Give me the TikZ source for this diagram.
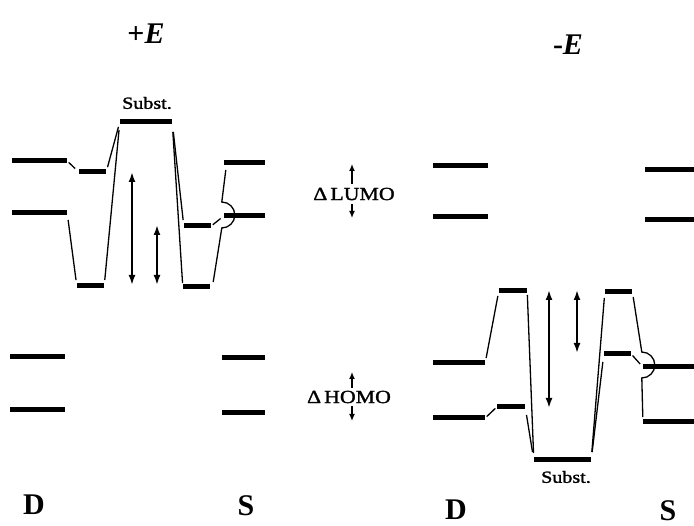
\documentclass[tikz,border=0pt]{standalone}
\usepackage{fontspec}
\setmainfont{Liberation Serif}
\newfontfamily\widefont[FakeStretch=1.18,FakeBold=1.5]{Liberation Serif}
\usetikzlibrary{arrows.meta,calc}
\begin{document}
\begin{tikzpicture}[x=1pt,y=-1pt,
 lvl/.style={rectangle, fill=black, inner sep=0pt, minimum height=5pt},
 conn/.style={line width=1.3pt},
 dbl/.style={line width=2.4pt, {Latex[length=10pt,width=7pt]}-{Latex[length=10pt,width=7pt]}},
 sgl/.style={line width=2pt, -{Latex[length=7pt,width=6pt]}},
 big/.style={font=\fontsize{30}{34}\selectfont\bfseries},
 small/.style={font=\widefont\fontsize{17}{20}\selectfont, inner sep=0pt},
 mid/.style={font=\widefont\fontsize{18.5}{22}\selectfont, inner sep=0pt},
 ]
\useasboundingbox (0,0) rectangle (694,526);

% titles
\node[big] (tp) at (146,34) {+\textit{E}};
\node[big] (tm) at (568,45) {-\textit{E}};
\node[big] (D1) at (34,505) {D};
\node[big] (S1) at (246,506) {S};
\node[big] (D2) at (456,510) {D};
\node[big] (S2) at (668,511) {S};

% ---------- left panel (+E) ----------
\node[lvl, minimum width=55pt] (dL1) at (39.5,161) {};
\node[lvl, minimum width=55pt] (dL2) at (39.5,213) {};
\node[lvl, minimum width=27pt] (mL1) at (92.5,172) {};
\node[lvl, minimum width=27pt] (mL2) at (90.5,286) {};
\node[lvl, minimum width=52pt] (sub1) at (146,122) {};
\node[small] (subt1) at (147,103) {Subst.};
\node[lvl, minimum width=27pt] (mR1) at (197.5,226) {};
\node[lvl, minimum width=27pt] (mR2) at (196.5,287) {};
\node[lvl, minimum width=41pt] (sL1) at (244.5,163) {};
\node[lvl, minimum width=41pt] (sL2) at (244.5,216) {};
\node[lvl, minimum width=55pt] (dH1) at (37.5,357) {};
\node[lvl, minimum width=55pt] (dH2) at (37.5,410) {};
\node[lvl, minimum width=43pt] (sH1) at (243.5,358) {};
\node[lvl, minimum width=43pt] (sH2) at (243.5,413) {};

\draw[conn, shorten <=2pt, shorten >=5pt] (dL1.east) -- (mL1.west);
\draw[conn, shorten <=7pt, shorten >=6pt] (dL2.east) -- (mL2.west);
\draw[conn, shorten <=5pt, shorten >=5pt] (mL1.east) -- (sub1.west);
\draw[conn, shorten <=6pt, shorten >=8pt] (mL2.east) -- (sub1.west);
\draw[conn, shorten <=10pt, shorten >=6pt] (sub1.east) -- (mR1.west);
\draw[conn, shorten <=10pt, shorten >=4pt] (sub1.east) -- (mR2.west);
\draw[conn, shorten <=2pt, shorten >=4pt] (mR1.east) -- (sL2.west);
\draw[conn] ($(sL1.west)+(2,7)$) -- ($(sL2.west)+(-2,-14)$)
  arc[start angle=-90, end angle=90, radius=13] -- ($(mR2.east)+(3,-5)$);

\coordinate (a1t) at (132,172);
\coordinate (a1b) at (132,285);
\coordinate (a2t) at (157,225);
\coordinate (a2b) at (157,285);
\draw[dbl] (a1t) -- (a1b);
\draw[dbl] (a2t) -- (a2b);

% ---------- middle labels ----------
\node[mid] (lumo) at (354,194) {Δ\,LUMO};
\coordinate (lu1) at (352,184);
\coordinate (lu2) at (352,164);
\coordinate (ld1) at (352,204);
\coordinate (ld2) at (352,218);
\draw[sgl] (lu1) -- (lu2);
\draw[sgl] (ld1) -- (ld2);

\node[mid] (homo) at (349,397) {Δ\,HOMO};
\coordinate (hu1) at (352,388);
\coordinate (hu2) at (352,372);
\coordinate (hd1) at (352,406);
\coordinate (hd2) at (352,421);
\draw[sgl] (hu1) -- (hu2);
\draw[sgl] (hd1) -- (hd2);

% ---------- right panel (-E) ----------
\node[lvl, minimum width=55pt] (dR1) at (460.5,166) {};
\node[lvl, minimum width=55pt] (dR2) at (460.5,217) {};
\node[lvl, minimum width=49pt] (sR1) at (669.5,170) {};
\node[lvl, minimum width=49pt] (sR2) at (669.5,220) {};
\node[lvl, minimum width=52pt] (dR3) at (459,363) {};
\node[lvl, minimum width=52pt] (dR4) at (459,418) {};
\node[lvl, minimum width=28pt] (mR3) at (513,291) {};
\node[lvl, minimum width=28pt] (mR4) at (511,407) {};
\node[lvl, minimum width=57pt] (sub2) at (562.5,460) {};
\node[small] (subt2) at (566,477) {Subst.};
\node[lvl, minimum width=27pt] (mR5) at (618.5,292) {};
\node[lvl, minimum width=27pt] (mR6) at (617.5,354) {};
\node[lvl, minimum width=51pt] (sR3) at (668.5,367) {};
\node[lvl, minimum width=51pt] (sR4) at (668.5,422) {};

\draw[conn, shorten <=5pt, shorten >=5pt] (dR3.east) -- (mR3.west);
\draw[conn, shorten <=2pt, shorten >=2pt] (dR4.east) -- (mR4.west);
\draw[conn, shorten <=4pt, shorten >=7pt] (mR3.east) -- (sub2.west);
\draw[conn, shorten <=8pt, shorten >=8pt] (mR4.east) -- (sub2.west);
\draw[conn, shorten <=8pt, shorten >=6pt] (sub2.east) -- (mR5.west);
\draw[conn, shorten <=8pt, shorten >=8pt] (sub2.east) -- (mR6.west);
\draw[conn, shorten <=2pt, shorten >=4pt] (mR6.east) -- (sR3.west);
\draw[conn] ($(mR5.east)+(1,5)$) -- ($(sR3.west)+(-1,-15)$)
  arc[start angle=-90, end angle=90, radius=13] -- ($(sR4.west)+(0,-5)$);

\coordinate (a3t) at (549,290);
\coordinate (a3b) at (549,408);
\coordinate (a4t) at (577,290);
\coordinate (a4b) at (577,353);
\draw[dbl] (a3t) -- (a3b);
\draw[dbl] (a4t) -- (a4b);
\end{tikzpicture}
\end{document}
